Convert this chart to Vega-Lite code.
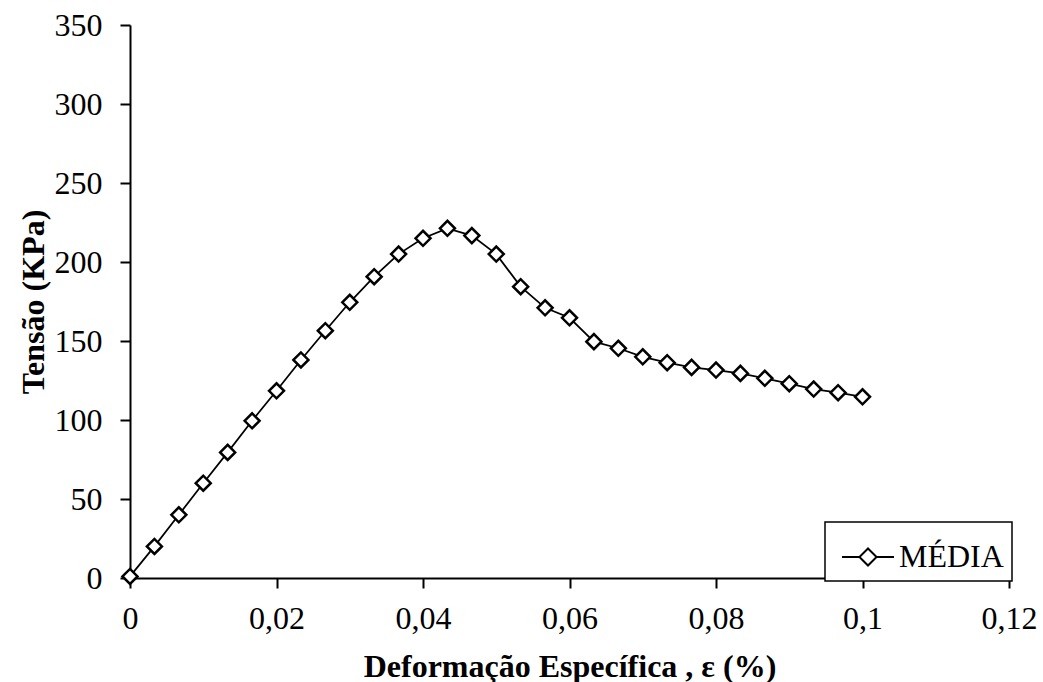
{
  "$schema": "https://vega.github.io/schema/vega-lite/v6.json",
  "width": 879,
  "height": 553,
  "autosize": {"type": "none"},
  "padding": {"left": 130, "top": 25, "right": 34, "bottom": 104},
  "background": "white",
  "config": {
    "view": {"stroke": null},
    "font": "Liberation Serif",
    "axis": {
      "grid": false,
      "domainColor": "black",
      "domainWidth": 2,
      "tickColor": "black",
      "tickWidth": 2,
      "tickSize": 10,
      "labelColor": "black",
      "labelFont": "Liberation Serif",
      "labelFontSize": 32,
      "titleColor": "black",
      "titleFont": "Liberation Serif",
      "titleFontSize": 32,
      "titleFontWeight": "bold",
      "labelOverlap": false,
      "labelFlush": false,
      "labelBound": false
    }
  },
  "data": {
    "values": [
      {"e": 0, "t": 1, "serie": "MÉDIA"},
      {"e": 0.003333, "t": 20, "serie": "MÉDIA"},
      {"e": 0.006667, "t": 40, "serie": "MÉDIA"},
      {"e": 0.01, "t": 60, "serie": "MÉDIA"},
      {"e": 0.013333, "t": 79.5, "serie": "MÉDIA"},
      {"e": 0.016667, "t": 99.5, "serie": "MÉDIA"},
      {"e": 0.02, "t": 118.5, "serie": "MÉDIA"},
      {"e": 0.023333, "t": 138, "serie": "MÉDIA"},
      {"e": 0.026667, "t": 156.5, "serie": "MÉDIA"},
      {"e": 0.03, "t": 174.5, "serie": "MÉDIA"},
      {"e": 0.033333, "t": 190.7, "serie": "MÉDIA"},
      {"e": 0.036667, "t": 205, "serie": "MÉDIA"},
      {"e": 0.04, "t": 215, "serie": "MÉDIA"},
      {"e": 0.043333, "t": 221.3, "serie": "MÉDIA"},
      {"e": 0.046667, "t": 216.7, "serie": "MÉDIA"},
      {"e": 0.05, "t": 205, "serie": "MÉDIA"},
      {"e": 0.053333, "t": 184.4, "serie": "MÉDIA"},
      {"e": 0.056667, "t": 171, "serie": "MÉDIA"},
      {"e": 0.06, "t": 164.7, "serie": "MÉDIA"},
      {"e": 0.063333, "t": 149.6, "serie": "MÉDIA"},
      {"e": 0.066667, "t": 145.4, "serie": "MÉDIA"},
      {"e": 0.07, "t": 140, "serie": "MÉDIA"},
      {"e": 0.073333, "t": 136.3, "serie": "MÉDIA"},
      {"e": 0.076667, "t": 133.3, "serie": "MÉDIA"},
      {"e": 0.08, "t": 131.6, "serie": "MÉDIA"},
      {"e": 0.083333, "t": 129.5, "serie": "MÉDIA"},
      {"e": 0.086667, "t": 126.4, "serie": "MÉDIA"},
      {"e": 0.09, "t": 123, "serie": "MÉDIA"},
      {"e": 0.093333, "t": 119.6, "serie": "MÉDIA"},
      {"e": 0.096667, "t": 117.3, "serie": "MÉDIA"},
      {"e": 0.1, "t": 114.7, "serie": "MÉDIA"}
    ]
  },
  "encoding": {
    "x": {
      "field": "e",
      "type": "quantitative",
      "scale": {"domain": [0, 0.12], "nice": false, "zero": false},
      "axis": {
        "title": "Deformação Específica , ε (%)",
        "values": [0, 0.02, 0.04, 0.06, 0.08, 0.1, 0.12],
        "labelExpr": "replace(format(datum.value, '.2~f'), '.', ',')",
        "labelPadding": 15,
        "titlePadding": 17
      }
    },
    "y": {
      "field": "t",
      "type": "quantitative",
      "scale": {"domain": [0, 350], "nice": false},
      "axis": {
        "title": "Tensão (KPa)",
        "values": [0, 50, 100, 150, 200, 250, 300, 350],
        "labelPadding": 18,
        "titlePadding": 4
      }
    }
  },
  "layer": [
    {
      "mark": {"type": "line", "strokeWidth": 1.75},
      "encoding": {
        "stroke": {
          "field": "serie",
          "type": "nominal",
          "scale": {"range": ["black"]},
          "legend": {
            "title": null,
            "orient": "none",
            "legendX": 695,
            "legendY": 497,
            "strokeColor": "black",
            "fillColor": "white",
            "padding": 8,
            "symbolOffset": 8,
            "symbolType": "M-1,0H-0.33M0.33,0H1M0,-0.33L0.33,0L0,0.33L-0.33,0Z",
            "symbolSize": 2704,
            "symbolStrokeWidth": 2,
            "symbolFillColor": "white",
            "labelFont": "Liberation Serif",
            "labelFontSize": 32,
            "labelColor": "black",
            "labelOffset": 4,
            "labelLimit": 300,
            "encode": {
              "legend": {"update": {"strokeWidth": {"value": 1.5}}},
              "symbols": {"update": {"fill": {"value": "white"}, "stroke": {"value": "black"}, "fillOpacity": {"value": 1}}}
            }
          }
        }
      }
    },
    {
      "mark": {
        "type": "point",
        "shape": "diamond",
        "size": 225,
        "filled": true,
        "fill": "white",
        "stroke": "black",
        "strokeWidth": 2.5,
        "opacity": 1
      }
    }
  ]
}
